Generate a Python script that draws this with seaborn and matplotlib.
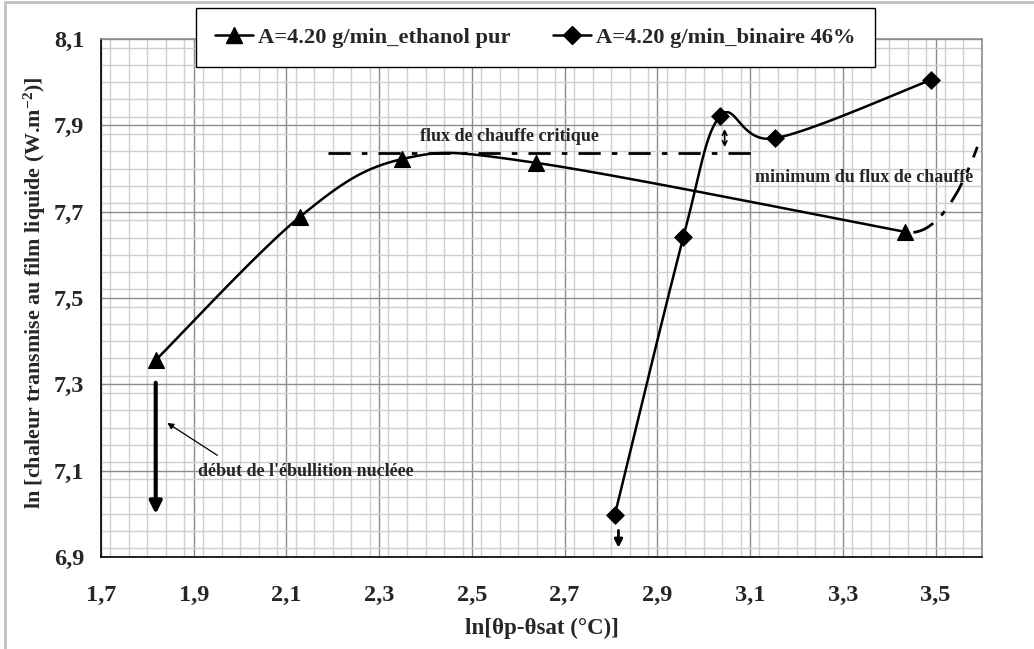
import numpy as np
import matplotlib
matplotlib.use("Agg")
import matplotlib.pyplot as plt
import seaborn as sns
from matplotlib.lines import Line2D
from matplotlib.patches import Rectangle, PathPatch
from matplotlib.path import Path
from matplotlib.ticker import MultipleLocator

# data
eth_x = [1.818, 2.129, 2.350, 2.639, 3.435]
eth_y = [7.356, 7.688, 7.822, 7.813, 7.653]
bin_x = [2.808, 2.956, 3.036, 3.153, 3.489]
bin_y = [6.997, 7.641, 7.922, 7.870, 8.005]
eth_label = "A=4.20 g/min_ethanol pur"
bin_label = "A=4.20 g/min_binaire 46%"
x_ticks = [1.7, 1.9, 2.1, 2.3, 2.5, 2.7, 2.9, 3.1, 3.3, 3.5]
y_ticks = [6.9, 7.1, 7.3, 7.5, 7.7, 7.9, 8.1]

sns.set_style("white")
plt.rcParams["font.family"] = ["Liberation Serif", "DejaVu Serif"]
plt.rcParams["font.weight"] = "bold"
plt.rcParams["mathtext.fontset"] = "custom"
plt.rcParams["mathtext.rm"] = "Liberation Serif:bold"
plt.rcParams["mathtext.bf"] = "Liberation Serif:bold"
plt.rcParams["mathtext.it"] = "Liberation Serif:bold"


def smooth(xs, ys, n=40, sx=464.0, sy=432.0):
    # Excel style smoothed line (bezier with 1/6 tangents), done in pixel-like units
    p = np.column_stack([np.array(xs) * sx, np.array(ys) * sy])
    pts = []
    for i in range(len(p) - 1):
        p0 = p[i - 1] if i > 0 else p[i]
        p3 = p[i + 2] if i + 2 < len(p) else p[i + 1]
        c1 = p[i] + (p[i + 1] - p0) / 6
        c2 = p[i + 1] - (p3 - p[i]) / 6
        t = np.linspace(0, 1, n)[:, None]
        seg = ((1 - t) ** 3 * p[i] + 3 * (1 - t) ** 2 * t * c1
               + 3 * (1 - t) * t ** 2 * c2 + t ** 3 * p[i + 1])
        pts.append(seg)
    pts = np.vstack(pts)
    return pts[:, 0] / sx, pts[:, 1] / sy


fig = plt.figure(figsize=(10.34, 6.49), dpi=100)
ax = fig.add_axes([101 / 1034, 1 - 557 / 649, 881 / 1034, 518 / 649])

# outer chart frame
fig.patches.append(Rectangle((5 / 1034, -0.1), 1.2, 1.1 - 2 / 649, transform=fig.transFigure,
                             fill=False, edgecolor="#c0c0c0", linewidth=2))

ex, ey = smooth(eth_x, eth_y)
bx, by = smooth(bin_x, bin_y)
ax.plot(ex, ey, color="black", lw=1.8, zorder=3)
ax.plot(bx, by, color="black", lw=1.8, zorder=3)
sns.scatterplot(x=eth_x, y=eth_y, marker="^", s=130, color="black", edgecolor="black", ax=ax, zorder=4)
sns.scatterplot(x=bin_x, y=bin_y, marker="D", s=80, color="black", edgecolor="black", ax=ax, zorder=4)

ax.set_xlim(1.7, 3.6)
ax.set_ylim(6.9, 8.1)
ax.set_xticks(x_ticks)
ax.set_yticks(y_ticks)
ax.xaxis.set_minor_locator(MultipleLocator(0.04))
ax.yaxis.set_minor_locator(MultipleLocator(0.04))
ax.set_xticklabels([f"{v:.1f}".replace(".", ",") for v in x_ticks])
ax.set_yticklabels([f"{v:.1f}".replace(".", ",") for v in y_ticks])
ax.grid(which="minor", color="#cfcfcf", lw=1.0, zorder=0)
ax.grid(which="major", color="#8c8c8c", lw=1.0, zorder=0)
ax.set_axisbelow(True)
ax.tick_params(which="major", direction="out", length=5, width=1, color="black", labelsize=17.5)
ax.tick_params(axis="x", pad=15)
ax.tick_params(axis="y", pad=7)
ax.tick_params(which="minor", length=0)
for s in ["left", "bottom"]:
    ax.spines[s].set_color("black")
    ax.spines[s].set_linewidth(1.2)
for s in ["top", "right"]:
    ax.spines[s].set_color("#8c8c8c")
    ax.spines[s].set_linewidth(1.2)

ax.set_xlabel("ln[θp-θsat (°C)]", fontsize=16.5, fontweight="bold", labelpad=9)
ax.set_ylabel("ln [chaleur transmise au film liquide (W.m$^{-2}$)]", fontsize=15.8,
              fontweight="bold", labelpad=3)
ax.yaxis.set_label_coords(-0.060, 0.51)

# annotations
dashdot = (0, (8, 4, 2, 4))
ax.plot([2.19, 3.105], [7.836, 7.836], color="black", lw=2, linestyle=dashdot, zorder=3)
ax.text(2.58, 7.873, "flux de chauffe critique", fontsize=13, fontweight="bold",
        ha="center", va="center")
ax.annotate("", xy=(3.045, 7.898), xytext=(3.045, 7.843),
            arrowprops=dict(arrowstyle="<->", lw=1.2, color="black", mutation_scale=8))
ax.text(3.11, 7.778, "minimum du flux de chauffe", fontsize=13, fontweight="bold",
        ha="left", va="center")
curve = Path([(3.452, 7.652), (3.525, 7.66), (3.59, 7.85)],
             [Path.MOVETO, Path.CURVE3, Path.CURVE3])
ax.add_patch(PathPatch(curve, fill=False, edgecolor="black", lw=2, linestyle=dashdot, zorder=3))

ax.annotate("", xy=(1.818, 6.993), xytext=(1.818, 7.31),
            arrowprops=dict(arrowstyle="-|>", lw=3, color="black", mutation_scale=18))
ax.annotate("", xy=(1.838, 7.214), xytext=(1.956, 7.132),
            arrowprops=dict(arrowstyle="-|>", lw=0.9, color="black", mutation_scale=9))
ax.text(1.909, 7.098, "début de l'ébullition nucléee", fontsize=13, fontweight="bold",
        ha="left", va="center")
ax.annotate("", xy=(2.816, 6.915), xytext=(2.816, 6.968),
            arrowprops=dict(arrowstyle="-|>", lw=2, color="black", mutation_scale=12))

handles = [Line2D([], [], color="black", lw=1.8, marker="^", markersize=12, label=eth_label),
           Line2D([], [], color="black", lw=1.8, marker="D", markersize=9, label=bin_label)]
leg = fig.legend(handles=handles, loc="upper left", bbox_to_anchor=(196 / 1034, 1 - 8 / 649),
                 borderaxespad=0, ncol=2, frameon=True, fancybox=False, framealpha=1,
                 edgecolor="black", borderpad=0.85, handlelength=1.7, handletextpad=0.2,
                 columnspacing=1.9, prop={"weight": "bold", "size": 16.2})
leg.get_frame().set_linewidth(1.0)

fig.savefig("out.png", dpi=100)
